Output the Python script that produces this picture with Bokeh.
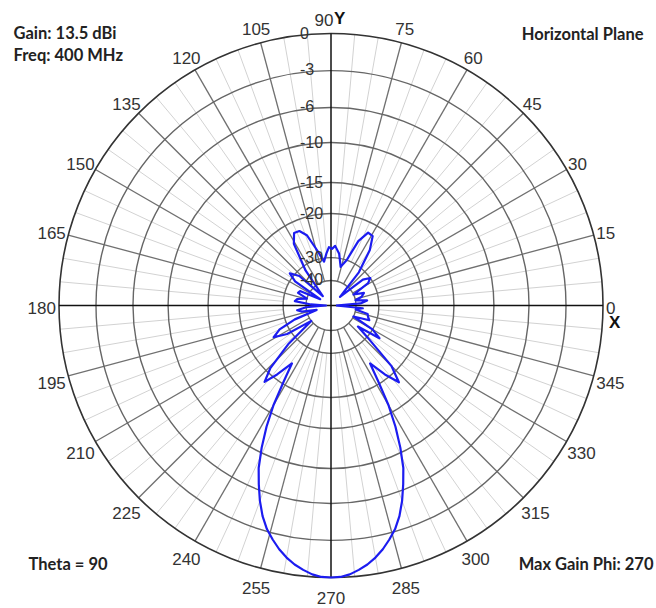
import numpy as np
from bokeh.plotting import figure
from bokeh.models import Range1d
from bokeh.core.properties import value
from bokeh.embed import file_html
from bokeh.resources import INLINE

# ---------------- data ----------------
phi_deg = [0, 4, 8, 12, 16, 21, 26, 31, 35, 39, 44, 50, 55, 59, 63, 67, 71, 76,
           81, 86, 89, 92, 95, 99, 104, 109, 113, 117, 121, 126, 131, 137, 142,
           146, 150, 155, 159, 164, 169, 173, 177, 180, 184, 188, 192, 197, 201,
           205, 209, 213, 218, 222, 226, 229, 232, 236, 238, 240, 242, 244, 246,
           248, 250, 252, 254, 256, 258, 260, 262, 264, 266, 268, 270, 272, 274,
           276, 278, 280, 282, 284, 286, 288, 290, 292, 294, 296, 298, 300, 302,
           304, 308, 311.5, 315, 319, 322, 326, 330, 334, 339, 343, 347, 351, 355]
gain_db = [-48, -38, -35, -40, -37, -35.5, -40, -32, -30, -33, -45, -32, -25.5,
           -22.5, -22.3, -25, -30, -33.5, -29, -27.3, -28, -27.6, -29, -31.5, -28,
           -24, -22.5, -22.4, -24.5, -32, -45, -32, -29, -32, -45, -36, -35.5, -40,
           -36, -35, -42, -48, -40, -36, -38, -44, -34, -28, -26, -29, -40, -28,
           -21, -18.5, -21, -25, -20.8, -16.3, -13.2, -10.6, -8.3, -6.6, -5.2,
           -4.1, -3.2, -2.5, -1.85, -1.3, -0.85, -0.5, -0.2, -0.03, 0, -0.03, -0.2,
           -0.5, -0.85, -1.3, -1.85, -2.5, -3.2, -4.1, -5.2, -6.6, -8.3, -10.6,
           -13.2, -16.3, -20.8, -25, -21, -18.3, -21.5, -30, -36, -27.6, -30, -40,
           -33, -34, -34.5, -40, -37]

ring_db = [0, -3, -6, -10, -15, -20, -30, -40]
ring_labels = ["0", "-3", "-6", "-10", "-15", "-20", "-30", "-40"]
angle_ticks = list(range(0, 360, 15))
angle_labels = [str(a) for a in angle_ticks]
minor_ticks = [a for a in range(0, 360, 5) if a % 15 != 0]

# radial scale of the grid: dB -> fraction of the outer radius
scale_db = [-50, -40, -30, -20, -15, -10, -6, -3, 0]
scale_r = [0.0, 0.092, 0.176, 0.338, 0.452, 0.599, 0.728, 0.864, 1.0]


def rad(db):
    return np.interp(np.asarray(db, dtype=float), scale_db, scale_r)


# ---------------- layout ----------------
W, H = 656, 608
R = 272.0                      # outer radius in px
CX, CY = 330.5, 305.0          # centre in figure px (from top-left)
PX = 1.0 / R                   # one pixel in data units

p = figure(width=W, height=H, output_backend="svg", toolbar_location=None,
           x_range=Range1d(-CX / R, (W - CX) / R),
           y_range=Range1d(-(H - CY) / R, CY / R),
           min_border=0, outline_line_color=None)
p.axis.visible = False
p.grid.visible = False
p.background_fill_color = "white"
p.border_fill_color = "white"

# minor spokes
r_minor0 = rad(-30)
ma = np.radians(minor_ticks)
p.segment(x0=r_minor0 * np.cos(ma), y0=r_minor0 * np.sin(ma),
          x1=np.cos(ma), y1=np.sin(ma), line_color="#d2d2d2", line_width=1)

# major spokes
r_major0 = rad(-40)
Ma = np.radians([a for a in angle_ticks if a % 90 != 0])
p.segment(x0=r_major0 * np.cos(Ma), y0=r_major0 * np.sin(Ma),
          x1=np.cos(Ma), y1=np.sin(Ma), line_color="#707070", line_width=1.3)

# rings
rr = rad(ring_db)
p.circle(x=[0] * (len(rr) - 1), y=[0] * (len(rr) - 1), radius=rr[1:],
         fill_color=None, line_color="#666666", line_width=1.4)
p.circle(x=[0], y=[0], radius=[1.0], fill_color=None,
         line_color="#333333", line_width=1.6)

# axes
p.segment(x0=[-1, 0], y0=[0, -1], x1=[1, 0], y1=[0, 1],
          line_color="#111111", line_width=1.5)

# pattern
ph = np.radians(phi_deg + [phi_deg[0] + 360])
rg = rad(gain_db + [gain_db[0]])
p.line(x=rg * np.cos(ph), y=rg * np.sin(ph), line_color="#1c1cf0",
       line_width=2.2, line_join="round")

label_font = value("Liberation Sans")

# ring labels along the vertical axis
p.text(x=[-31 * PX] * len(rr), y=rr + 1 * PX, text=ring_labels,
       text_font=label_font, text_font_size="16px",
       text_color="#333333", text_align="left", text_baseline="middle")

# angle labels outside the circle
lx, ly, lt = [], [], []
for a, t in zip(angle_ticks, angle_labels):
    th = np.radians(a)
    w = 9.5 * len(t)
    s = np.sin(th)
    hh = 13 if s > 0 else 15
    x = (R + 3) * np.cos(th) + (w / 2) * np.cos(th)
    y = (R + 3) * s + hh * s - 2
    if a == 90:
        x -= 7
    lx.append(x * PX)
    ly.append(y * PX)
    lt.append(t)
p.text(x=lx, y=ly, text=lt, text_font=label_font,
       text_font_size="17px", text_color="#333333", text_align="center",
       text_baseline="middle")

# axis letters
p.text(x=[3 * PX, (R + 6) * PX], y=[(R + 15) * PX, -17 * PX], text=["Y", "X"],
       text_font=label_font, text_font_size="17px",
       text_font_style="bold", text_color="#111111", text_align="left",
       text_baseline="middle")

# corner notes
note_font = value("Lato")
notes = [("Gain: 13.5 dBi", 13, 32, "left"),
         ("Freq: 400 MHz", 13, 54, "left"),
         ("Horizontal Plane", 643, 33, "right"),
         ("Theta = 90", 28, 563, "left"),
         ("Max Gain Phi: 270", 653, 563, "right")]
for t, nx, ny, al in notes:
    p.text(x=[(nx - CX) * PX], y=[(CY - ny) * PX], text=[t],
           text_font=note_font, text_font_size="16.5px", text_font_style="bold",
           text_color="#222222", text_align=al, text_baseline="middle")

open("out.html", "w").write(file_html(p, INLINE))
